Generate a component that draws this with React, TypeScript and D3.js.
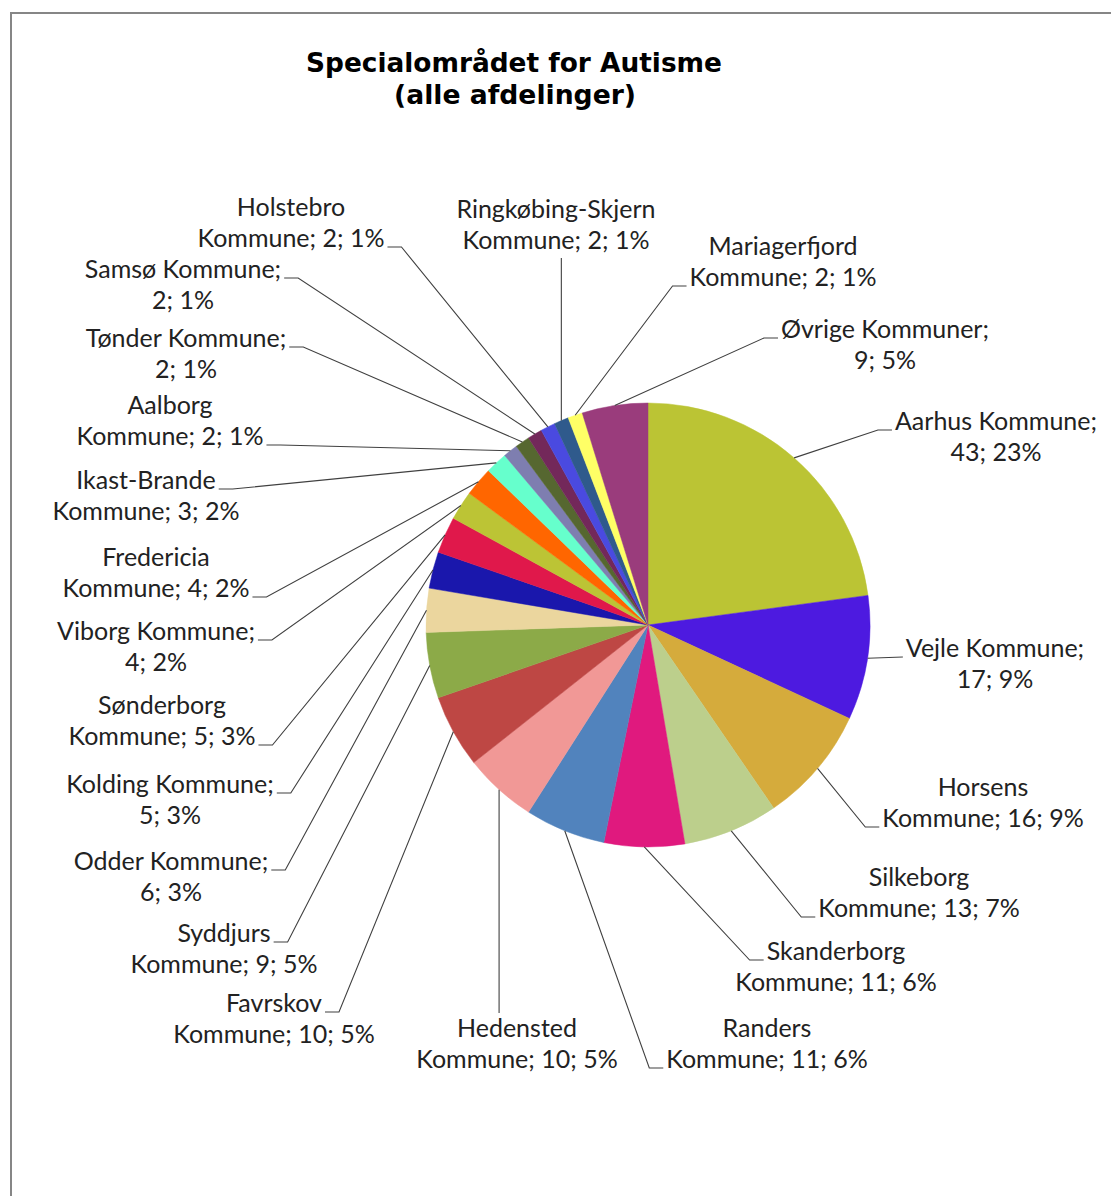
import React, { useEffect, useRef } from "react";
import * as d3 from "d3";

const names = [
  "Aarhus Kommune", "Vejle Kommune", "Horsens Kommune", "Silkeborg Kommune",
  "Skanderborg Kommune", "Randers Kommune", "Hedensted Kommune", "Favrskov Kommune",
  "Syddjurs Kommune", "Odder Kommune", "Kolding Kommune", "Sønderborg Kommune",
  "Viborg Kommune", "Fredericia Kommune", "Ikast-Brande Kommune", "Aalborg Kommune",
  "Tønder Kommune", "Samsø Kommune", "Holstebro Kommune", "Ringkøbing-Skjern Kommune",
  "Mariagerfjord Kommune", "Øvrige Kommuner",
];
const values = [43, 17, 16, 13, 11, 11, 10, 10, 9, 6, 5, 5, 4, 4, 3, 2, 2, 2, 2, 2, 2, 9];
const colors = [
  "#BBC434", "#4D1AE0", "#D5AB3C", "#BCCF8C", "#E0197E", "#5183BD", "#F19896", "#BE4744",
  "#8CAA48", "#EBD69E", "#1A17AC", "#E0184B", "#BCC435", "#FF6600", "#66FFCC", "#7E7EB0",
  "#566730", "#73285A", "#4A4AE0", "#2F5A8C", "#FFFF66", "#9A3C7C",
];
const titleLines = ["Specialområdet for Autisme", "(alle afdelinger)"];

// label layout: centre x, first baseline, words on first line, attach side
const labelLayout: [number, number, number, string][] = [
  [996, 430, 2, "l0"],
  [995, 657, 2, "l0"],
  [983, 796, 1, "l1"],
  [919, 886, 1, "l1"],
  [836, 960, 1, "l0"],
  [767, 1037, 1, "l1"],
  [517, 1037, 1, "t"],
  [274, 1012, 1, "r0"],
  [224, 942, 1, "r0"],
  [171, 870, 2, "r0"],
  [170, 793, 2, "r0"],
  [162, 714, 1, "r1"],
  [156, 640, 2, "r0"],
  [156, 566, 1, "r1"],
  [146, 489, 1, "r0"],
  [170, 414, 1, "r1"],
  [186, 347, 2, "r0"],
  [183, 278, 2, "r0"],
  [291, 216, 1, "r1"],
  [556, 218, 1, "b"],
  [783, 255, 1, "l1"],
  [885, 338, 2, "l0"],
];

const W = 1111, H = 1196;
const CX = 648, CY = 625, R = 222;
const LINE_H = 31;

export default function App() {
  const ref = useRef<SVGSVGElement>(null);
  useEffect(() => {
    const svg = d3.select(ref.current);
    svg.selectAll("*").remove();
    const total = d3.sum(values);
    const data = names.map((n, i) => ({ name: n, value: values[i], color: colors[i], i }));
    const pie = d3.pie<any>().sort(null).value((d: any) => d.value);
    const arcs = pie(data);
    const arc = d3.arc<any>().innerRadius(0).outerRadius(R);

    svg.append("rect").attr("x", 11).attr("y", 13).attr("width", W + 20).attr("height", H + 20)
      .attr("fill", "none").attr("stroke", "#868686").attr("stroke-width", 2);

    const t = svg.append("g").attr("font-family", "'DejaVu Sans', Verdana, sans-serif")
      .attr("font-weight", "bold").attr("font-size", 26).attr("fill", "#000").attr("text-anchor", "middle");
    t.append("text").attr("x", 514).attr("y", 72).attr("textLength", 416)
      .attr("lengthAdjust", "spacingAndGlyphs").text(titleLines[0]);
    t.append("text").attr("x", 515).attr("y", 104).attr("textLength", 242)
      .attr("lengthAdjust", "spacingAndGlyphs").text(titleLines[1]);

    const g = svg.append("g").attr("transform", `translate(${CX},${CY})`);
    g.selectAll("path").data(arcs).enter().append("path")
      .attr("d", arc as any).attr("fill", (d: any) => d.data.color)
      .attr("stroke", (d: any) => d.data.color).attr("stroke-width", 0.5);

    const lg = svg.append("g");
    const tg = svg.append("g").attr("font-family", "Lato, 'Noto Sans', sans-serif")
      .attr("font-size", 25).attr("fill", "#222").attr("text-anchor", "middle");

    arcs.forEach((a: any, i: number) => {
      const [lx, by, nw, side] = labelLayout[i];
      const pct = Math.round((a.data.value / total) * 100);
      const words = `${a.data.name}; ${a.data.value}; ${pct}%`.split(" ");
      const lines = [words.slice(0, nw).join(" "), words.slice(nw).join(" ")];
      const widths: number[] = [];
      lines.forEach((ln, k) => {
        const te = tg.append("text").attr("x", lx).attr("y", by + k * LINE_H).text(ln);
        widths.push((te.node() as SVGTextElement).getComputedTextLength());
      });
      const mid = (a.startAngle + a.endAngle) / 2;
      const px = CX + R * Math.sin(mid);
      const py = CY - R * Math.cos(mid);
      let pts: [number, number][];
      if (side === "t") {
        const ty = by - 24;
        pts = [[px, ty], [px, py]];
      } else if (side === "b") {
        const ty = by + LINE_H + 9;
        pts = [[px, ty], [px, py]];
      } else {
        const k = +side[1];
        const yy = by + k * LINE_H;
        const dir = side[0] === "l" ? -1 : 1;
        const ex = lx + dir * (widths[k] / 2 + 3);
        const ex2 = ex + dir * 14;
        if (Math.abs(py - yy) < 4) pts = [[ex, yy], [px, py]];
        else pts = [[ex, yy], [ex2, yy], [px, py]];
      }
      lg.append("path").attr("d", d3.line()(pts) as string).attr("fill", "none")
        .attr("stroke", "#404040").attr("stroke-width", 1.1);
    });
  }, []);
  return (
    <svg ref={ref} width={W} height={H}
      style={{ position: "absolute", left: 0, top: 0, background: "#fff" }} />
  );
}
